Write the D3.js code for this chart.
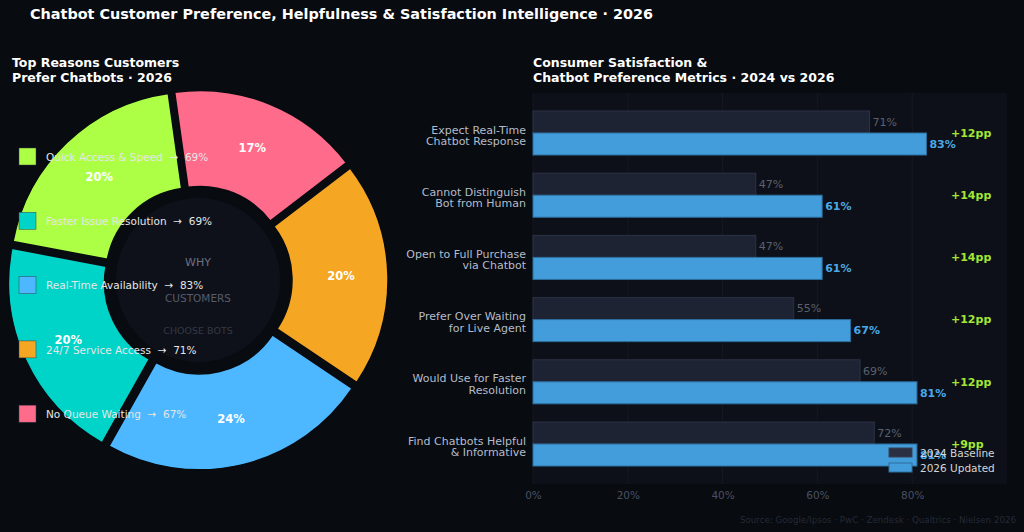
<!DOCTYPE html>
<html>
<head>
<meta charset="utf-8">
<script src="https://cdn.jsdelivr.net/npm/d3@7"></script>
<style>
  html, body { margin: 0; padding: 0; background: #080b10; }
  svg { display: block; font-family: "DejaVu Sans", sans-serif; }
</style>
</head>
<body>
<svg width="1024" height="532"></svg>
<script>
var screen = {width: 1024, height: 532};

// donut data
var reasons = ["Quick Access & Speed", "Faster Issue Resolution", "Real-Time Availability", "24/7 Service Access", "No Queue Waiting"];
var reasonPct = [69, 69, 83, 71, 67];
var reasonShare = [20, 20, 24, 20, 17];
var reasonColors = ["#adff45", "#00d4c8", "#4db8ff", "#f5a623", "#ff6b8a"];

// bar data
var metrics = [
    ["Expect Real-Time", "Chatbot Response"],
    ["Cannot Distinguish", "Bot from Human"],
    ["Open to Full Purchase", "via Chatbot"],
    ["Prefer Over Waiting", "for Live Agent"],
    ["Would Use for Faster", "Resolution"],
    ["Find Chatbots Helpful", "& Informative"]
];
var baseline2024 = [71, 47, 47, 55, 69, 72];
var updated2026 = [83, 61, 61, 67, 81, 81];
var xTicks = [0, 20, 40, 60, 80];

var svg = d3.select("svg")
    .attr("width", screen.width)
    .attr("height", screen.height)

svg.append("rect")
    .attr("width", screen.width)
    .attr("height", screen.height)
    .attr("fill", "#080b10")

svg.append("text")
    .attr("x", 30).attr("y", 19)
    .attr("fill", "#ffffff")
    .attr("font-size", 14.4).attr("font-weight", "bold")
    .text("Chatbot Customer Preference, Helpfulness & Satisfaction Intelligence · 2026")

var titleLines = function(x, lines)
{
    svg.append("g").selectAll("text")
        .data(lines)
        .enter().append("text")
        .attr("x", x)
        .attr("y", function(d, i) { return 67 + i * 14.5 })
        .attr("fill", "#ffffff")
        .attr("font-size", 12.5).attr("font-weight", "bold")
        .text(function(d) { return d })
}
titleLines(12, ["Top Reasons Customers", "Prefer Chatbots · 2026"])
titleLines(533, ["Consumer Satisfaction &", "Chatbot Preference Metrics · 2024 vs 2026"])

// ---------- donut ----------
var cx = 198, cy = 280;
var rOuter = 184, rInner = 88, explode = 6;
var a0 = -8 * Math.PI / 180;

var pie = d3.pie().sort(null)
    .startAngle(a0)
    .endAngle(a0 - 2 * Math.PI)
var arcs = pie(reasonShare)
var arc = d3.arc().innerRadius(rInner).outerRadius(rOuter)

var donut = svg.append("g")
    .attr("transform", "translate(" + cx + "," + cy + ")")

var total = d3.sum(reasonShare)
var slices = donut.selectAll("g.slice")
    .data(arcs)
    .enter().append("g")
    .attr("class", "slice")
    .attr("transform", function(d) {
        var m = (d.startAngle + d.endAngle) / 2
        return "translate(" + (Math.sin(m) * explode) + "," + (-Math.cos(m) * explode) + ")"
    })

slices.append("path")
    .attr("d", arc)
    .attr("fill", function(d, i) { return reasonColors[i] })
    .attr("stroke", "#080b10")
    .attr("stroke-width", 1.5)

slices.append("text")
    .attr("x", function(d) { return Math.sin((d.startAngle + d.endAngle) / 2) * 137 })
    .attr("y", function(d) { return -Math.cos((d.startAngle + d.endAngle) / 2) * 137 })
    .attr("dy", "0.35em")
    .attr("text-anchor", "middle")
    .attr("fill", "#ffffff")
    .attr("font-size", 11.5).attr("font-weight", "bold")
    .text(function(d) { return Math.round(d.value / total * 100) + "%" })

donut.append("circle")
    .attr("r", 87)
    .attr("fill", "#0e1119")
    .attr("stroke", "#080b10")
    .attr("stroke-width", 10)

var centerText = [["WHY", -18, "#6b7080", 11], ["CUSTOMERS", 18, "#565c6c", 10.5], ["CHOOSE BOTS", 51, "#343946", 9.5]]
donut.selectAll("text.center")
    .data(centerText)
    .enter().append("text")
    .attr("class", "center")
    .attr("y", function(d) { return d[1] })
    .attr("dy", "0.35em")
    .attr("text-anchor", "middle")
    .attr("fill", function(d) { return d[2] })
    .attr("font-size", function(d) { return d[3] })
    .text(function(d) { return d[0] })

var legend = svg.append("g").selectAll("g")
    .data(reasons)
    .enter().append("g")
    .attr("transform", function(d, i) { return "translate(19," + (157 + i * 64.3) + ")" })

legend.append("rect")
    .attr("x", 0).attr("y", -9)
    .attr("width", 17).attr("height", 17)
    .attr("fill", function(d, i) { return reasonColors[i] })
    .attr("stroke", "#3a3f4a").attr("stroke-width", 0.5)

legend.append("text")
    .attr("x", 27)
    .attr("dy", "0.35em")
    .attr("fill", "#e6e6e6")
    .attr("font-size", 10.5)
    .attr("xml:space", "preserve")
    .text(function(d, i) { return d + "  \u2192  " + reasonPct[i] + "%" })

// ---------- bars ----------
var plot = {left: 533, right: 1007, top: 93, bottom: 484}

var xScale = d3.scaleLinear()
    .domain([0, 100])
    .range([plot.left, plot.right])

var yScale = d3.scaleLinear()
    .domain([-0.643, 5.643])
    .range([plot.top, plot.bottom])

var barH = yScale(0.354) - yScale(0)

svg.append("rect")
    .attr("x", plot.left).attr("y", plot.top)
    .attr("width", plot.right - plot.left)
    .attr("height", plot.bottom - plot.top)
    .attr("fill", "#0d1018")

svg.append("g").selectAll("line")
    .data(xTicks)
    .enter().append("line")
    .attr("x1", function(d) { return xScale(d) })
    .attr("x2", function(d) { return xScale(d) })
    .attr("y1", plot.top).attr("y2", plot.bottom)
    .attr("stroke", "#171b25")
    .attr("stroke-width", 0.8)

var xAxis = d3.axisBottom(xScale)
    .tickValues(xTicks)
    .tickSize(0)
    .tickPadding(8)
    .tickFormat(function(d) { return d + "%" })

svg.append("g")
    .attr("transform", "translate(0," + plot.bottom + ")")
    .call(xAxis)
    .call(function(g) { g.select(".domain").remove() })
    .selectAll("text")
    .attr("fill", "#4a5060")
    .attr("font-size", 10.5)
    .attr("font-family", "DejaVu Sans")

var groups = svg.append("g").selectAll("g")
    .data(metrics)
    .enter().append("g")

groups.append("rect")
    .attr("x", xScale(0))
    .attr("y", function(d, i) { return yScale(i) - barH })
    .attr("width", function(d, i) { return xScale(baseline2024[i]) - xScale(0) })
    .attr("height", barH)
    .attr("fill", "#1e2333")
    .attr("stroke", "#2c3244").attr("stroke-width", 1)

groups.append("rect")
    .attr("x", xScale(0))
    .attr("y", function(d, i) { return yScale(i) })
    .attr("width", function(d, i) { return xScale(updated2026[i]) - xScale(0) })
    .attr("height", barH)
    .attr("fill", "#449ddb")
    .attr("stroke", "#2d6e9e").attr("stroke-width", 1)

groups.append("text")
    .attr("x", function(d, i) { return xScale(baseline2024[i]) + 3 })
    .attr("y", function(d, i) { return yScale(i) - barH / 2 })
    .attr("dy", "0.35em")
    .attr("fill", "#5a6070")
    .attr("font-size", 11)
    .text(function(d, i) { return baseline2024[i] + "%" })

groups.append("text")
    .attr("x", function(d, i) { return xScale(updated2026[i]) + 3 })
    .attr("y", function(d, i) { return yScale(i) + barH / 2 })
    .attr("dy", "0.35em")
    .attr("fill", "#4aa8e8")
    .attr("font-size", 11).attr("font-weight", "bold")
    .text(function(d, i) { return updated2026[i] + "%" })

groups.append("text")
    .attr("x", 951)
    .attr("y", function(d, i) { return yScale(i) })
    .attr("dy", "0.35em")
    .attr("fill", "#a3e635")
    .attr("font-size", 11).attr("font-weight", "bold")
    .text(function(d, i) { return "+" + (updated2026[i] - baseline2024[i]) + "pp" })

groups.each(function(d, i) {
    d3.select(this).selectAll("text.cat")
        .data(d)
        .enter().append("text")
        .attr("class", "cat")
        .attr("x", 526)
        .attr("y", function(t, j) { return yScale(i) + 2.5 + (j - 0.5) * 11.5 })
        .attr("dy", "0.35em")
        .attr("text-anchor", "end")
        .attr("fill", "#b4bccb")
        .attr("font-size", 11)
        .text(function(t) { return t })
})

var barLegend = svg.append("g").selectAll("g")
    .data([["2024 Baseline", "#2a2f42", "#3a4055"], ["2026 Updated", "#449ddb", "#2d6e9e"]])
    .enter().append("g")
    .attr("transform", function(d, i) { return "translate(889," + (453 + i * 15) + ")" })

barLegend.append("rect")
    .attr("x", 0).attr("y", -5)
    .attr("width", 23).attr("height", 9)
    .attr("fill", function(d) { return d[1] })
    .attr("stroke", function(d) { return d[2] })

barLegend.append("text")
    .attr("x", 31)
    .attr("dy", "0.35em")
    .attr("fill", "#d6d6d6")
    .attr("font-size", 10.5)
    .text(function(d) { return d[0] })

svg.append("text")
    .attr("x", 1016).attr("y", 523)
    .attr("text-anchor", "end")
    .attr("fill", "#252a35")
    .attr("font-size", 8.7)
    .text("Source: Google/Ipsos · PwC · Zendesk · Qualtrics · Nielsen 2026")
</script>
</body>
</html>
